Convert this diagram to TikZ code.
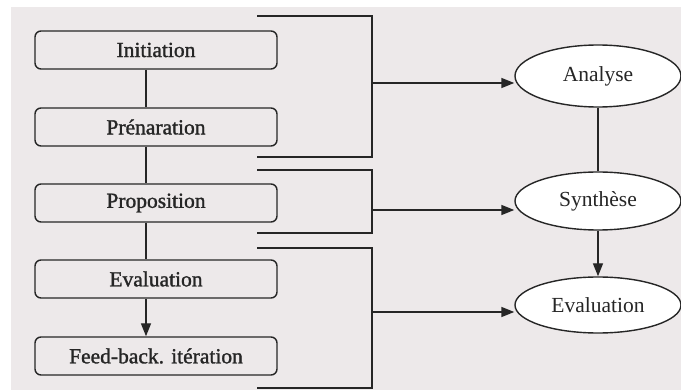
\documentclass[tikz,border=0pt]{standalone}
\usepackage{fontspec}
\setmainfont{Liberation Serif}
\newfontfamily\stagefont[FakeBold=1.3]{Liberation Serif}
\usetikzlibrary{shapes.geometric,arrows.meta,positioning}
\definecolor{paper}{RGB}{237,233,234}
\definecolor{ink}{RGB}{38,38,38}
\tikzset{
  stage/.style={draw=ink,line width=1.4pt,rounded corners=6pt,
    minimum width=242pt,minimum height=38pt,inner sep=0pt,text=ink,
    font=\stagefont\fontsize{21.5}{23}\selectfont},
  phase/.style={draw=ink,fill=white,line width=1.4pt,ellipse,
    minimum width=166pt,minimum height=58pt,inner sep=0pt,text=ink,
    font=\fontsize{21.5}{23}\selectfont},
  link/.style={draw=ink,line width=1.4pt},
  tip/.style={-{Triangle[length=13pt,width=10pt]}}
}
\begin{document}
\begin{tikzpicture}[x=1pt,y=-1pt]
   \useasboundingbox (0,0) rectangle (681,390);
   \fill[paper] (11,7) rectangle (681,390);
   % stages on the left
   \node[stage] (init) at (156,50) {Initiation};
   \node[stage] (prep) at (156,127) {Prénaration};
   \node[stage] (prop) at (156,203) {Proposition};
   \node[stage] (eval) at (156,279) {Evaluation};
   \node[stage] (feed) at (156,356) {Feed-back. itération};
   \draw[link] ([xshift=-10pt]init.south) -- ([xshift=-10pt]prep.north);
   \draw[link] ([xshift=-10pt]prep.south) -- ([xshift=-10pt]prop.north);
   \draw[link] ([xshift=-10pt]prop.south) -- ([xshift=-10pt]eval.north);
   \draw[link,tip] ([xshift=-10pt]eval.south) -- ([xshift=-10pt]feed.north);
   % phases on the right
   \node[phase,minimum height=62pt] (ana) at (598,76) {Analyse};
   \node[phase] (syn) at (598,201) {Synthèse};
   \node[phase,minimum height=56pt] (res) at (598,305) {Evaluation};
   \draw[link] (ana.south) -- (syn.north);
   \draw[link,tip] (syn.south) -- (res.north);
   % brackets grouping the stages
   \coordinate (a1) at (257,16);  \coordinate (a2) at (257,157);
   \coordinate (b1) at (257,170); \coordinate (b2) at (257,233);
   \coordinate (c1) at (257,248); \coordinate (c2) at (257,388);
   \coordinate (ga) at (372,83);
   \coordinate (gb) at (372,210);
   \coordinate (gc) at (372,312);
   \draw[link] (a1) -| (ga) |- (a2);
   \draw[link] (b1) -| (gb) |- (b2);
   \draw[link] (c1) -| (gc) |- (c2);
   \draw[link,tip] (ga) -- (ga -| ana.west);
   \draw[link,tip] (gb) -- (gb -| syn.west);
   \draw[link,tip] (gc) -- (gc -| res.west);
 \end{tikzpicture}
\end{document}
